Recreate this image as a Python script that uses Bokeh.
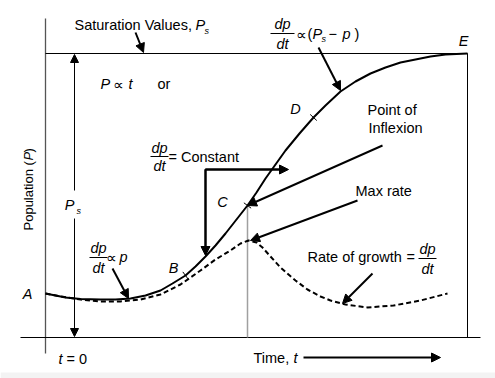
import math
from bokeh.plotting import figure
from bokeh.models import Range1d, Arrow, NormalHead, Label
from bokeh.embed import file_html
from bokeh.resources import INLINE

# ---- data (diagram units; y grows downward) ----
time_pts = [45, 55, 65, 80, 100, 115, 130, 145, 160, 172, 185, 195, 205, 215, 225, 236, 247,
            256, 265, 275, 285, 299, 313, 325, 340, 355, 370, 385, 400, 415, 430, 445, 467]
population = [293, 295, 297, 298.5, 299, 299, 298, 295, 290, 283, 275, 266, 256, 245, 233, 219, 205,
              192, 178, 164, 150, 133, 117, 105, 91, 81, 73, 67, 62, 59, 56, 54, 53]

rate_time = [45, 60, 80, 100, 120, 140, 160, 180, 200, 215, 230, 240, 248, 256, 262, 270, 280,
             295, 307, 320, 330, 345, 367, 393, 420, 447]
growth_rate = [293, 296, 299, 301, 301, 299, 294, 284, 270, 259, 250, 243, 240, 242, 247, 256, 267,
               280, 289, 296, 300, 304, 307, 305, 300, 293]

marked_idx = {"B": 10, "C": 16, "D": 22}

FONT = "Liberation Sans, Arial, sans-serif"
SYM = "DejaVu Sans"
FS = 14.5

p = figure(width=495, height=378, x_range=Range1d(0, 495), y_range=Range1d(378, 0),
           output_backend="svg", toolbar_location=None, min_border=0,
           x_axis_location=None, y_axis_location=None)
p.grid.grid_line_color = None
p.outline_line_color = None
p.background_fill_color = "white"
p.border_fill_color = "white"

# faint bottom band
p.quad(left=0, right=495, top=372, bottom=378, fill_color="#f3f3f3", line_color=None)

# frame lines
p.line([45, 45], [18, 353], line_color="#555555", line_width=1.3)
p.line([20, 480], [337, 337], line_color="black", line_width=1)
p.line([45, 467], [53, 53], line_color="black", line_width=1)
p.line([467, 467], [53, 337], line_color="black", line_width=1)

# vertical grey line at C
cx, cy = time_pts[marked_idx["C"]], population[marked_idx["C"]]
p.line([cx, cx], [cy, 337], line_color="#a0a0a0", line_width=1.5)

# curves
p.line(time_pts, population, line_color="black", line_width=2, line_join="round")
p.line(rate_time, growth_rate, line_color="black", line_width=2, line_dash="5 3", line_join="round")

# tick marks on curve
for name, i in marked_idx.items():
    x0, y0 = time_pts[i], population[i]
    dx = time_pts[i + 1] - time_pts[i - 1]
    dy = population[i + 1] - population[i - 1]
    L = math.hypot(dx, dy)
    nx, ny = -dy / L, dx / L
    s = 4.5
    p.line([x0 - nx * s, x0 + nx * s], [y0 - ny * s, y0 + ny * s], line_color="black", line_width=1)
    if name == "C":
        tx, ty = dx / L, dy / L
        p.line([x0 - tx * s, x0 + tx * s], [y0 - ty * s, y0 + ty * s], line_color="black", line_width=1)


def arrow(x0, y0, x1, y1, w=2, size=9):
    p.add_layout(Arrow(end=NormalHead(size=size, fill_color="black", line_color="black", line_width=1),
                       x_start=x0, y_start=y0, x_end=x1, y_end=y1,
                       line_width=w, line_color="black"))


def label(x, y, text, italic=False, size=FS, align="left", angle=0.0, font=FONT):
    p.add_layout(Label(x=x, y=y, text=text, text_align=align, text_baseline="middle",
                       text_font=font, text_font_size=f"{size}px",
                       text_font_style="italic" if italic else "normal",
                       text_color="black", angle=angle))


# arrows
arrow(135, 32, 143, 52)
arrow(318, 47, 340, 90)
arrow(382, 145, cx, cy)
arrow(357, 200, 250, 240)
arrow(112, 268, 128, 298)
arrow(372, 273, 342, 303)
arrow(303, 357, 440, 357, w=2)
arrow(74, 190, 74, 54, w=1, size=8)
arrow(74, 218, 74, 336, w=1, size=8)

# constant bracket
p.line([205, 205, 280], [250, 169, 169], line_color="black", line_width=2)
arrow(205, 169, 205, 255)
arrow(205, 169, 288, 169)

# texts
label(74, 24, "Saturation Values,")
label(195, 24, "P", italic=True)
label(204, 30, "s", italic=True, size=9)

label(100, 83, "P", italic=True)
label(118, 84, "\u221d", size=15, font=SYM, align="center")
label(128, 83, "t", italic=True)
label(157, 83, "or")

label(28, 230, "Population (", size=13, angle=math.pi / 2)
label(28, 160, "P", size=13, italic=True, angle=math.pi / 2)
label(28, 152, ")", size=13, angle=math.pi / 2)

label(69, 204, "P", italic=True, align="center")
label(76, 210, "s", italic=True, size=9)

for txt, (x, y) in {"A": (27, 293), "B": (173, 267), "C": (222, 201), "D": (295, 108), "E": (463, 40)}.items():
    label(x, y, txt, italic=True, align="center")


def frac(xc, y_top, y_bar, y_bot, half):
    label(xc, y_top, "dp", italic=True, align="center")
    label(xc, y_bot, "dt", italic=True, align="center")
    p.line([xc - half, xc + half], [y_bar, y_bar], line_color="black", line_width=1)


# top fraction
frac(282, 23, 33, 43, 12)
label(301, 34, "\u221d", size=15, font=SYM, align="center")
label(307, 33, "(")
label(312, 33, "P", italic=True)
label(321, 38, "s", italic=True, size=9)
label(328, 33, "\u2212")
label(342, 33, "p", italic=True)
label(354, 33, ")")

# constant fraction
frac(159, 147, 156, 165, 9)
label(168, 156, "= Constant")

# dp/dt ∝ p
frac(98, 247, 257, 267, 9)
label(111, 257, "\u221d", size=15, font=SYM, align="center")
label(119, 256, "p", italic=True)

# rate of growth
label(307, 256, "Rate of growth")
label(406, 256, "=")
frac(427, 248, 258, 268, 9)

label(367, 109, "Point of")
label(368, 127, "Inflexion")
label(355, 190, "Max rate")

label(58, 358, "t", italic=True)
label(66, 358, "= 0")
label(253, 357, "Time,")
label(293, 357, "t", italic=True)

open("out.html", "w").write(file_html(p, INLINE))
